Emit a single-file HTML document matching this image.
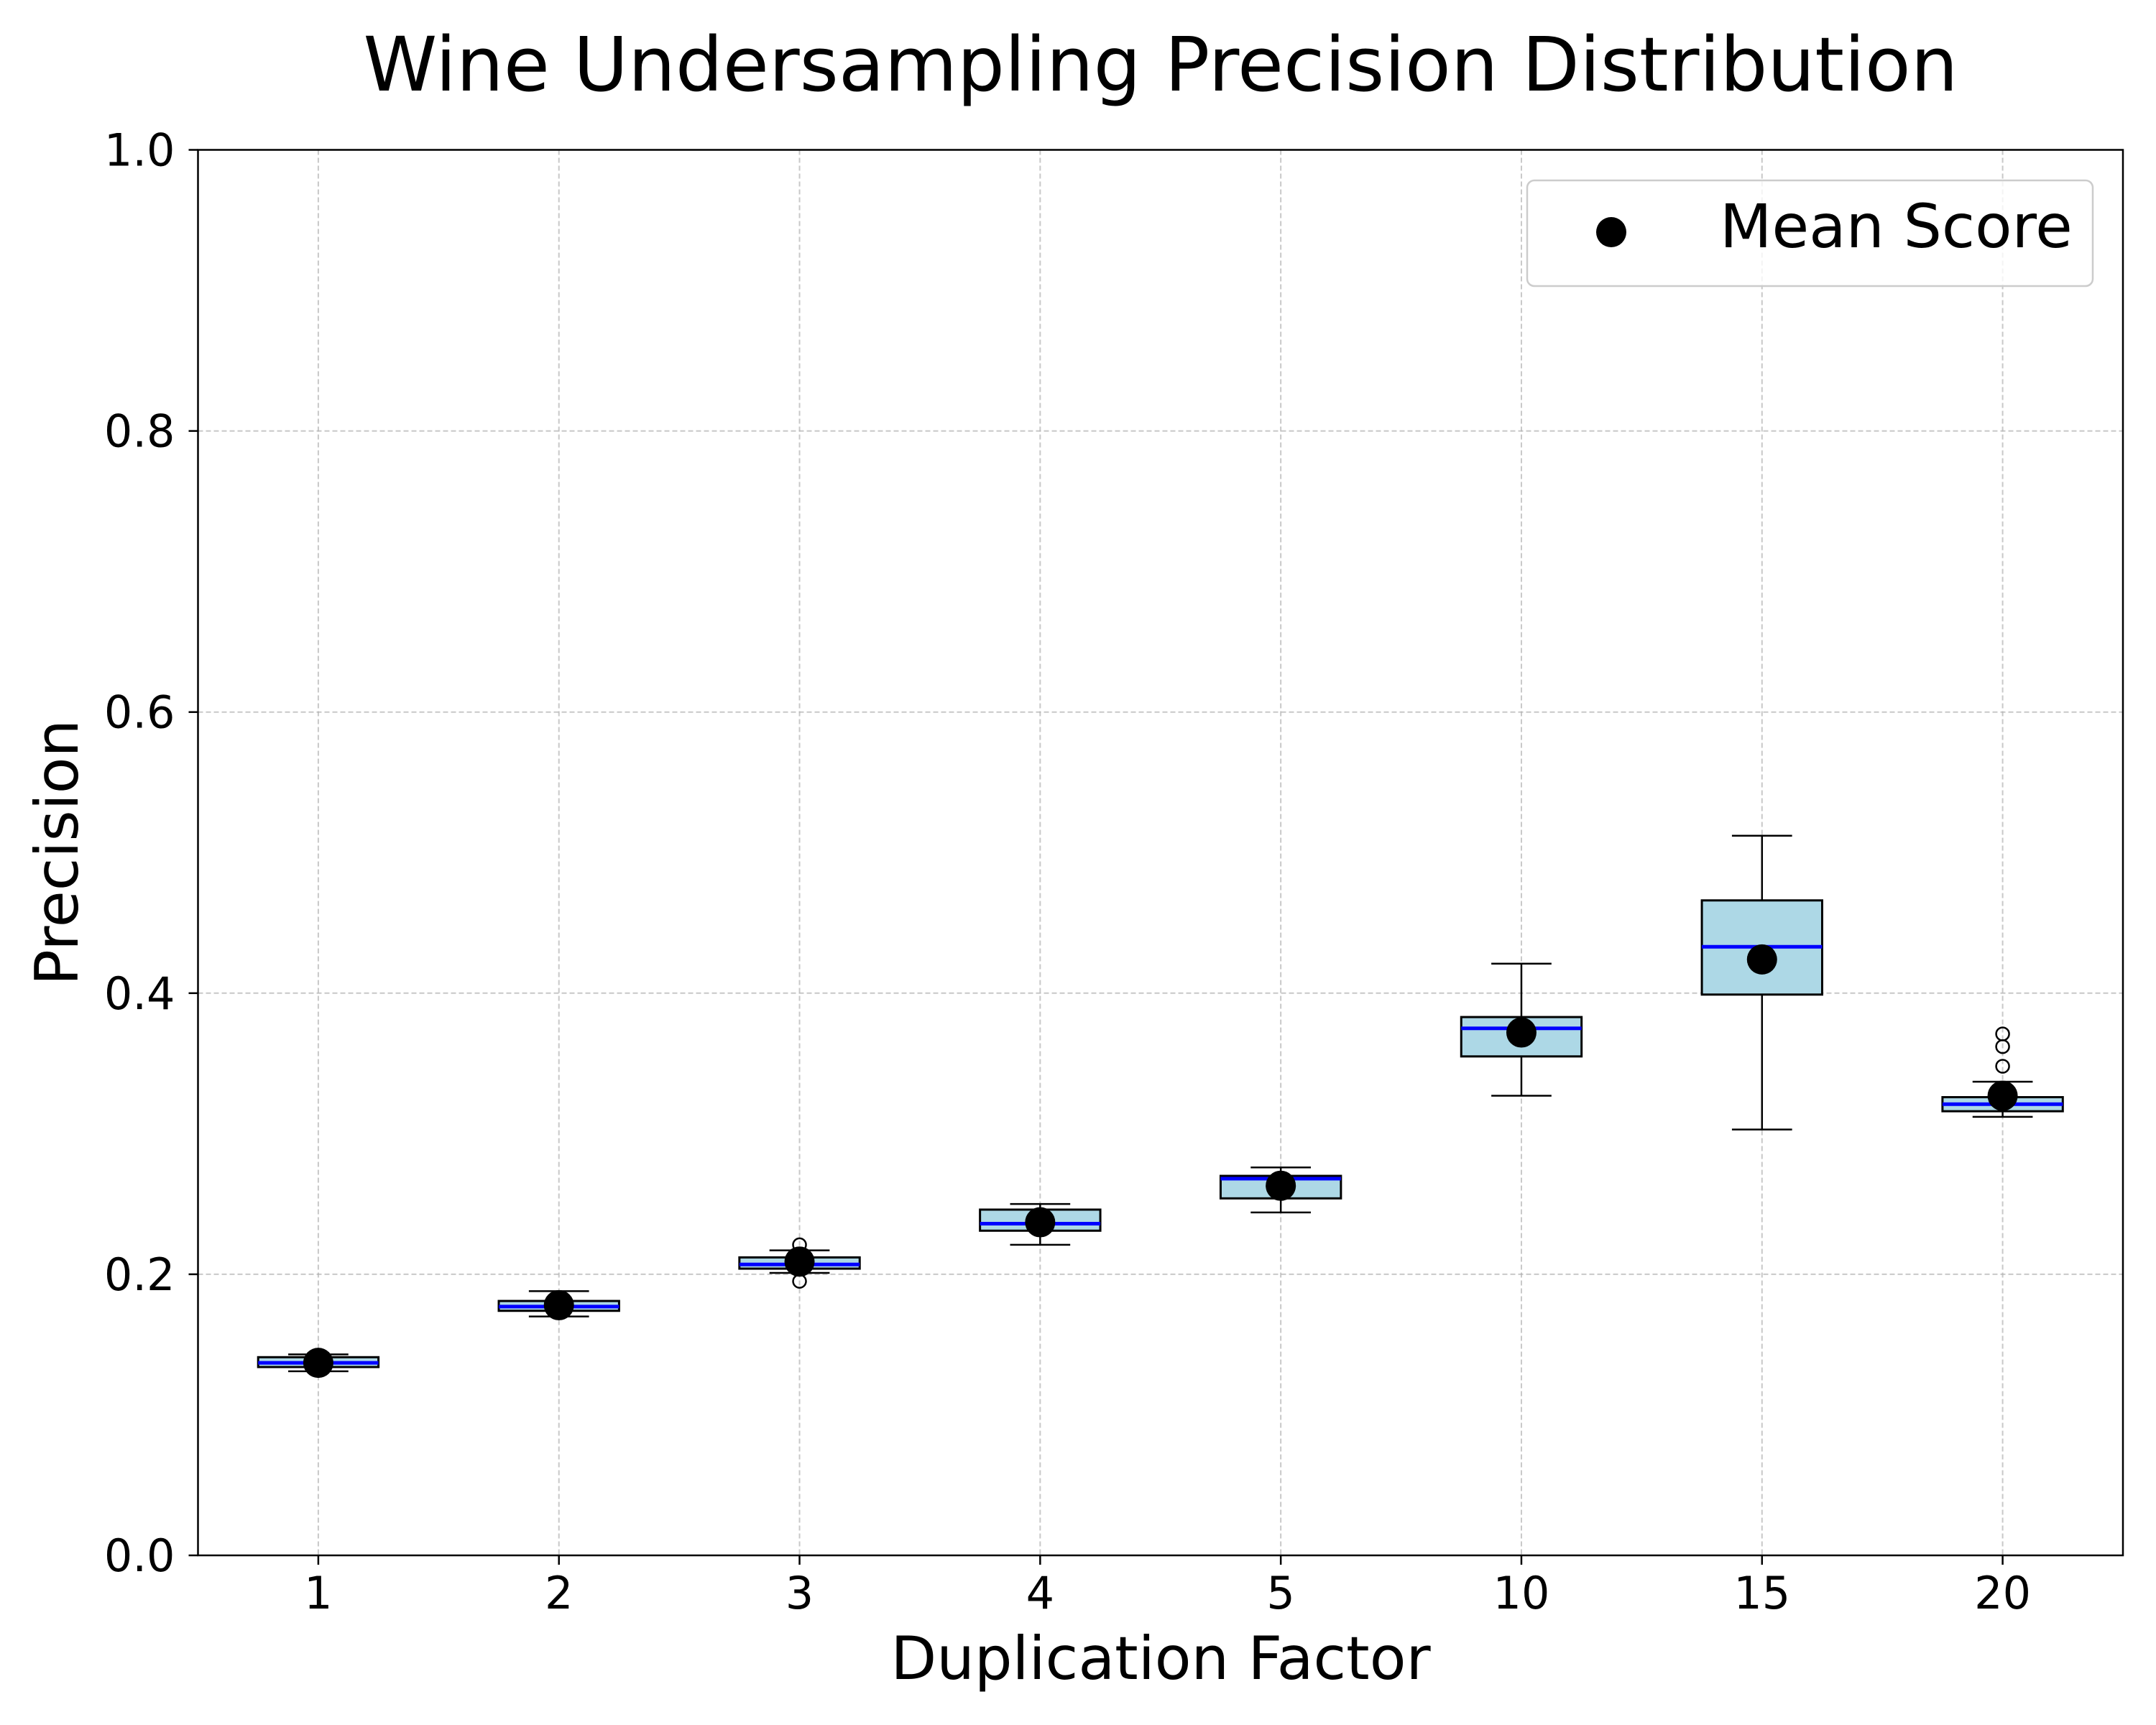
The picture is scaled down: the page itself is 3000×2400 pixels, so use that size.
<!DOCTYPE html>
<html><head><meta charset="utf-8"><style>body{margin:0;background:#fff}svg{display:block;font-family:"DejaVu Sans","Liberation Sans",sans-serif}</style></head>
<body>
<svg id="chart" width="3000" height="2400" viewBox="0 0 3000 2400" xmlns="http://www.w3.org/2000/svg">
<rect width="3000" height="2400" fill="#fff"/>
<text x="1615" y="126" font-size="104" text-anchor="middle">Wine Undersampling Precision Distribution</text>
<g id="grid"></g><g id="boxes"></g><g id="axes"></g>
<g>
<rect x="2125" y="251" width="787" height="147" rx="10" fill="#fff" fill-opacity="0.8" stroke="#ccc" stroke-width="2.5"/>
<circle cx="2242" cy="323" r="21" fill="#000"/>
<text x="2393" y="344" font-size="84">Mean Score</text>
</g>
<text x="1615" y="2336" font-size="83" text-anchor="middle">Duplication Factor</text>
<text transform="translate(108,1186) rotate(-90)" font-size="83" text-anchor="middle">Precision</text>
</svg>
<script>
const categories=["1","2","3","4","5","10","15","20"];
const q1=[0.134,0.174,0.204,0.231,0.254,0.355,0.399,0.316];
const q3=[0.141,0.181,0.212,0.246,0.270,0.383,0.466,0.326];
const medians=[0.137,0.177,0.207,0.236,0.268,0.375,0.433,0.321];
const whiskLo=[0.131,0.170,0.201,0.221,0.244,0.327,0.303,0.312];
const whiskHi=[0.143,0.188,0.217,0.250,0.276,0.421,0.512,0.337];
const means=[0.137,0.178,0.209,0.237,0.263,0.372,0.424,0.327];
const outliers=[[],[],[0.195,0.221],[],[],[],[],[0.348,0.362,0.371]];
const yTicks=[0,0.2,0.4,0.6,0.8,1.0];
const yTickLabels=["0.0","0.2","0.4","0.6","0.8","1.0"];
const L=275.5,R=2954,T=208.5,B=2164;
const NS="http://www.w3.org/2000/svg";
const xS=i=>L+(i+0.5)*(R-L)/categories.length;
const yS=v=>B-v*(B-T);
function mk(p,tag,a){const e=document.createElementNS(NS,tag);for(const k in a)e.setAttribute(k,a[k]);p.appendChild(e);return e;}
const grid=document.getElementById('grid'),boxes=document.getElementById('boxes'),axes=document.getElementById('axes');
yTicks.forEach((v,i)=>{
 const g=mk(grid,'line',{x1:L,x2:R,y1:yS(v),y2:yS(v),stroke:'#b0b0b0','stroke-width':2,'stroke-dasharray':'7,4','stroke-opacity':0.7});
 
 
 const t=mk(axes,'line',{x1:L-13,x2:L,y1:yS(v),y2:yS(v),stroke:'#000','stroke-width':2.5});
 
 
 const l=mk(axes,'text',{x:L-32,y:yS(v)+22,'font-size':62,'text-anchor':'end'});
 l.textContent=yTickLabels[i];
 
 
});
const hw=(R-L)/categories.length*0.25;
categories.forEach((c,i)=>{
 const x=xS(i);
 const g=mk(grid,'line',{x1:x,x2:x,y1:T,y2:B,stroke:'#b0b0b0','stroke-width':2,'stroke-dasharray':'7,4','stroke-opacity':0.7});
 
 
 const grp=mk(boxes,'g',{});
 
 
 mk(grp,'line',{x1:x,x2:x,y1:yS(whiskLo[i]),y2:yS(q1[i]),stroke:'#000','stroke-width':2.5});
 mk(grp,'line',{x1:x,x2:x,y1:yS(q3[i]),y2:yS(whiskHi[i]),stroke:'#000','stroke-width':2.5});
 mk(grp,'line',{x1:x-hw/2,x2:x+hw/2,y1:yS(whiskLo[i]),y2:yS(whiskLo[i]),stroke:'#000','stroke-width':2.5});
 mk(grp,'line',{x1:x-hw/2,x2:x+hw/2,y1:yS(whiskHi[i]),y2:yS(whiskHi[i]),stroke:'#000','stroke-width':2.5});
 mk(grp,'rect',{x:x-hw,y:yS(q3[i]),width:2*hw,height:yS(q1[i])-yS(q3[i]),fill:'#add8e6',stroke:'#000','stroke-width':3});
 mk(grp,'line',{x1:x-hw,x2:x+hw,y1:yS(medians[i]),y2:yS(medians[i]),stroke:'#0000ff','stroke-width':5});
 outliers[i].forEach(o=>{const f=mk(grp,'circle',{cx:x,cy:yS(o),r:9,fill:'none',stroke:'#000','stroke-width':2.5});
  
  });
 const m=mk(grp,'circle',{cx:x,cy:yS(means[i]),r:21,fill:'#000'});
 
 
 const t=mk(axes,'line',{x1:x,x2:x,y1:B,y2:B+13,stroke:'#000','stroke-width':2.5});
 
 
 const l=mk(axes,'text',{x:x,y:B+74,'font-size':62,'text-anchor':'middle'});
 l.textContent=c;
 
 
});
const fr=mk(axes,'rect',{x:L,y:T,width:R-L,height:B-T,fill:'none',stroke:'#000','stroke-width':2.5});


</script>
</body></html>
